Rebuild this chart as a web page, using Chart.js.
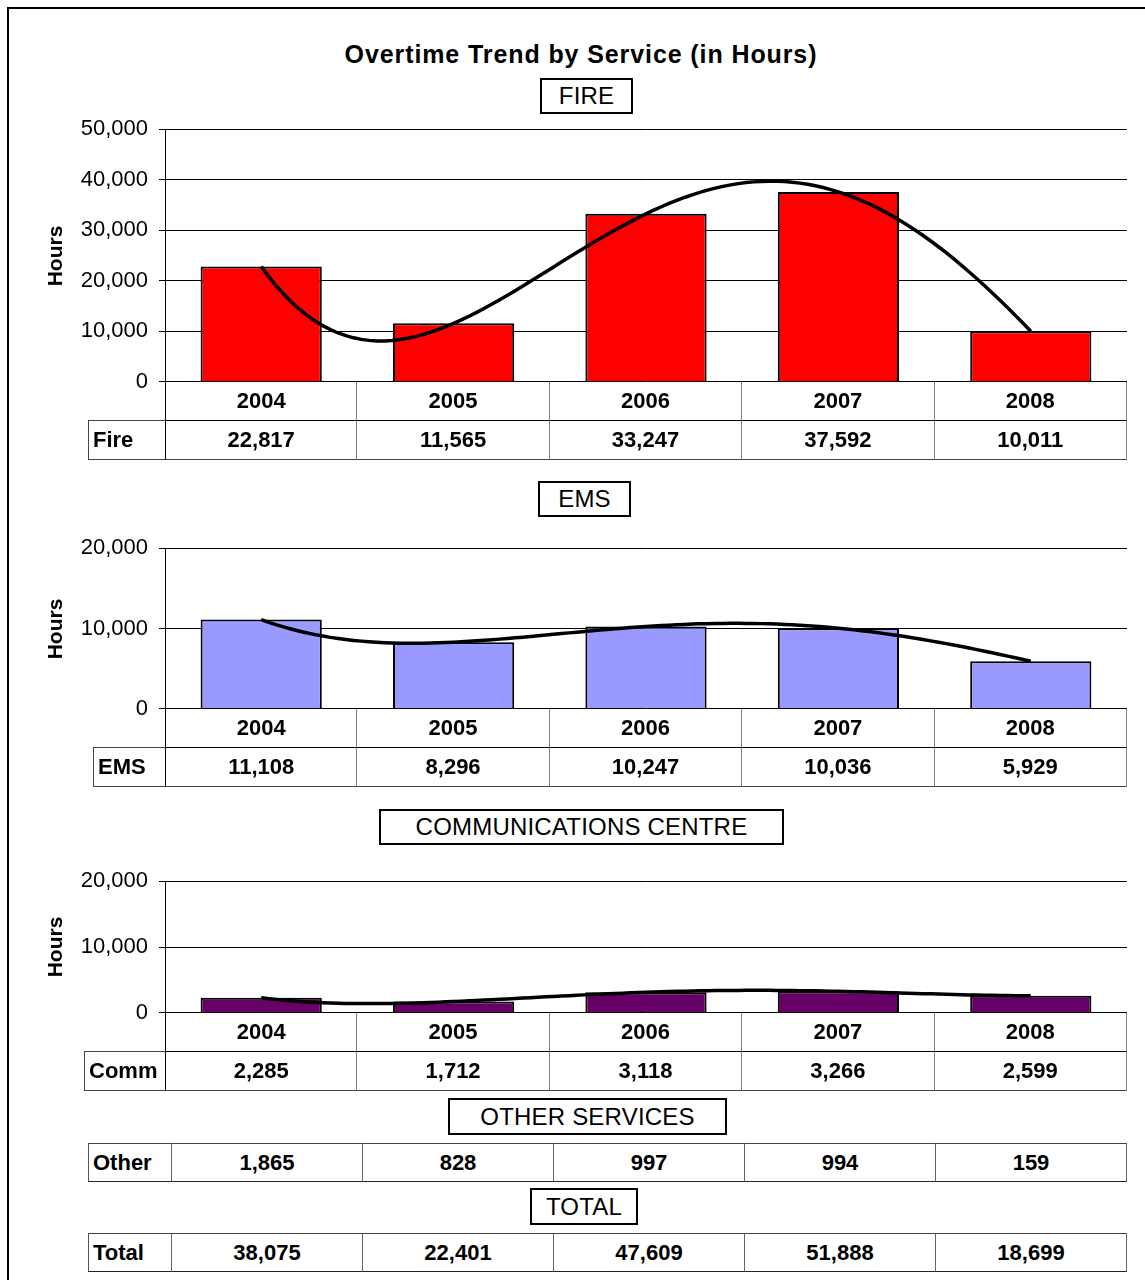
<!DOCTYPE html>
<html>
<head>
<meta charset="utf-8">
<script src="https://cdn.jsdelivr.net/npm/chart.js@4/dist/chart.umd.min.js"></script>
<style>
  body { margin: 0; background: #fff; font-family: "Liberation Sans", Arial, sans-serif; }
  #page { position: relative; width: 1145px; height: 1280px; overflow: hidden; }
  #frame { position: absolute; left: 7px; top: 7px; width: 1150px; height: 1290px; border-left: 2px solid #000; border-top: 2px solid #000; }
  .abs { position: absolute; }
  .title { left: 0; width: 1162px; top: 40px; text-align: center; font-weight: bold; font-size: 25px; letter-spacing: 0.9px; }
  .box { border: 2px solid #000; box-sizing: border-box; text-align: center; font-size: 24px; letter-spacing: 0.2px; display: flex; align-items: center; justify-content: center; }
  .hours { font-weight: bold; font-size: 21px; transform: rotate(-90deg); transform-origin: center; width: 100px; text-align: center; }
  .cell { position: absolute; box-sizing: border-box; font-weight: bold; font-size: 22px; display: flex; align-items: center; justify-content: center; }
  .lbl { justify-content: flex-start; padding-left: 4px; }
  canvas { position: absolute; }
</style>
</head>
<body>
<div id="page">
  <div id="frame"></div>
  <div class="abs title">Overtime Trend by Service (in Hours)</div>
  <div class="abs box" style="left:540px;top:78px;width:93px;height:36px">FIRE</div>
  <div class="abs box" style="left:538px;top:481px;width:93px;height:36px">EMS</div>
  <div class="abs box" style="left:379px;top:809px;width:405px;height:36px">COMMUNICATIONS CENTRE</div>
  <div class="abs box" style="left:448px;top:1098px;width:279px;height:37px">OTHER SERVICES</div>
  <div class="abs box" style="left:530px;top:1188px;width:108px;height:37px">TOTAL</div>
</div>
<script>
// données
const years = ["2004", "2005", "2006", "2007", "2008"];
const fireHours = [22817, 11565, 33247, 37592, 10011];
const emsHours = [11108, 8296, 10247, 10036, 5929];
const commHours = [2285, 1712, 3118, 3266, 2599];
const otherHours = [1865, 828, 997, 994, 159];
const totalHours = [38075, 22401, 47609, 51888, 18699];

const fireTicks = [0, 10000, 20000, 30000, 40000, 50000];
const emsTicks = [0, 10000, 20000];
const commTicks = [0, 10000, 20000];

const page = document.getElementById("page");
const fmt = (v) => v.toLocaleString("en-US");

// ligne de tendance polynomiale (comme Excel), ordre 4
function polyfit(xs, ys, order) {
  const n = order + 1;
  const A = [];
  for (let i = 0; i < n; i++) {
    A.push(new Array(n + 1).fill(0));
  }
  xs.forEach((x, k) => {
    for (let i = 0; i < n; i++) {
      for (let j = 0; j < n; j++) A[i][j] += Math.pow(x, i + j);
      A[i][n] += ys[k] * Math.pow(x, i);
    }
  });
  for (let i = 0; i < n; i++) {
    let p = i;
    for (let r = i + 1; r < n; r++) if (Math.abs(A[r][i]) > Math.abs(A[p][i])) p = r;
    [A[i], A[p]] = [A[p], A[i]];
    for (let r = 0; r < n; r++) {
      if (r === i) continue;
      const f = A[r][i] / A[i][i];
      for (let c = i; c <= n; c++) A[r][c] -= f * A[i][c];
    }
  }
  return A.map((row, i) => row[n] / row[i]);
}

function trendPoints(values) {
  const xs = values.map((v, i) => i);
  const coef = polyfit(xs, values, 4);
  const pts = [];
  for (let x = 0; x <= values.length - 1 + 1e-9; x += 0.04) {
    let y = 0;
    coef.forEach((c, i) => { y += c * Math.pow(x, i); });
    pts.push({ x: x, y: y });
  }
  return pts;
}

function addCell(left, top, width, height, text, cls, borders) {
  const d = document.createElement("div");
  d.className = "cell " + (cls || "");
  d.style.left = left + "px";
  d.style.top = top + "px";
  d.style.width = width + "px";
  d.style.height = height + "px";
  d.textContent = text;
  Object.assign(d.style, borders || {});
  page.appendChild(d);
}

function config(values, ticks, color) {
  return {
    type: "bar",
    data: {
      labels: years,
      datasets: [
        {
          type: "line",
          data: trendPoints(values),
          xAxisID: "xt",
          borderColor: "#000",
          borderWidth: 3.5,
          pointRadius: 0,
          tension: 0,
          order: 0,
        },
        {
          data: values,
          backgroundColor: color,
          borderColor: "#000",
          borderWidth: 2,
          barPercentage: 0.63,
          categoryPercentage: 1,
          grouped: false,
          order: 1,
        },
      ],
    },
    options: {
      responsive: false,
      maintainAspectRatio: false,
      animation: false,
      layout: { padding: { top: 16, bottom: 16, right: 4, left: 0 } },
      plugins: { legend: { display: false }, tooltip: { enabled: false } },
      scales: {
        x: { display: false },
        xt: { type: "linear", display: false, offset: false, min: -0.5, max: values.length - 0.5 },
        y: {
          min: ticks[0],
          max: ticks[ticks.length - 1],
          afterFit: (s) => { s.width = 145; },
          afterBuildTicks: (s) => { s.ticks = ticks.map((v) => ({ value: v })); },
          grid: { color: "#000", lineWidth: 1, tickLength: 6 },
          border: { color: "#000", width: 1 },
          ticks: {
            color: "#000",
            padding: 11,
            font: { family: "Liberation Sans", size: 22 },
            callback: (v) => fmt(v),
          },
        },
      },
    },
  };
}

function graphique(id, values, ticks, color, topY, zeroY, label, labelLeft) {
  const W = 1127 - 20 + 4;
  const cv = document.createElement("canvas");
  cv.id = id;
  page.appendChild(cv);

  // premier passage pour mesurer les marges de Chart.js
  let H = zeroY - topY + 40;
  cv.width = W;
  cv.height = H;
  let chart = new Chart(cv, config(values, ticks, color));
  const topExtra = chart.chartArea.top;
  const bottomExtra = H - chart.chartArea.bottom;
  chart.destroy();

  H = topExtra + (zeroY - topY) + bottomExtra;
  cv.width = W;
  cv.height = H;
  chart = new Chart(cv, config(values, ticks, color));
  cv.style.top = (topY - chart.chartArea.top) + "px";
  cv.style.left = (165 - chart.chartArea.left) + "px";

  // label "Hours"
  const h = document.createElement("div");
  h.className = "abs hours";
  h.textContent = "Hours";
  h.style.left = "5px";
  h.style.top = ((topY + zeroY) / 2 - 12) + "px";
  page.appendChild(h);

  // tableau de données sous le graphique
  const colW = (1127 - 165) / years.length;
  years.forEach((y, i) => {
    const x0 = 165 + i * colW;
    addCell(x0, zeroY, colW, 39, y, "", {
      borderRight: "1px solid #808080",
      borderLeft: i === 0 ? "1px solid #000" : "none",
      borderBottom: "1px solid #000",
    });
    addCell(x0, zeroY + 39, colW, 39, fmt(values[i]), "", {
      borderRight: "1px solid #808080",
      borderLeft: i === 0 ? "1px solid #000" : "none",
      borderBottom: "1px solid #444",
    });
  });
  addCell(labelLeft, zeroY + 38, 165 - labelLeft, 40, label, "lbl", {
    border: "1px solid #444",
    borderRight: "none",
  });
}

function tableau(top, label, values) {
  const left = 88, first = 172, right = 1127;
  const colW = (right - first) / values.length;
  addCell(left, top, first - left, 39, label, "lbl", {
    borderTop: "1px solid #444",
    borderBottom: "1px solid #222",
    borderLeft: "1px solid #555",
    borderRight: "1px solid #666",
  });
  values.forEach((v, i) => {
    addCell(first + i * colW, top, colW, 39, fmt(v), "", {
      borderTop: "1px solid #444",
      borderBottom: "1px solid #222",
      borderRight: "1px solid #666",
    });
  });
}

graphique("fireChart", fireHours, fireTicks, "#FF0000", 129, 382, "Fire", 88);
graphique("emsChart", emsHours, emsTicks, "#9999FF", 548, 709, "EMS", 93);
graphique("commChart", commHours, commTicks, "#660066", 881, 1013, "Comm", 84);
tableau(1143, "Other", otherHours);
tableau(1233, "Total", totalHours);
</script>
</body>
</html>
